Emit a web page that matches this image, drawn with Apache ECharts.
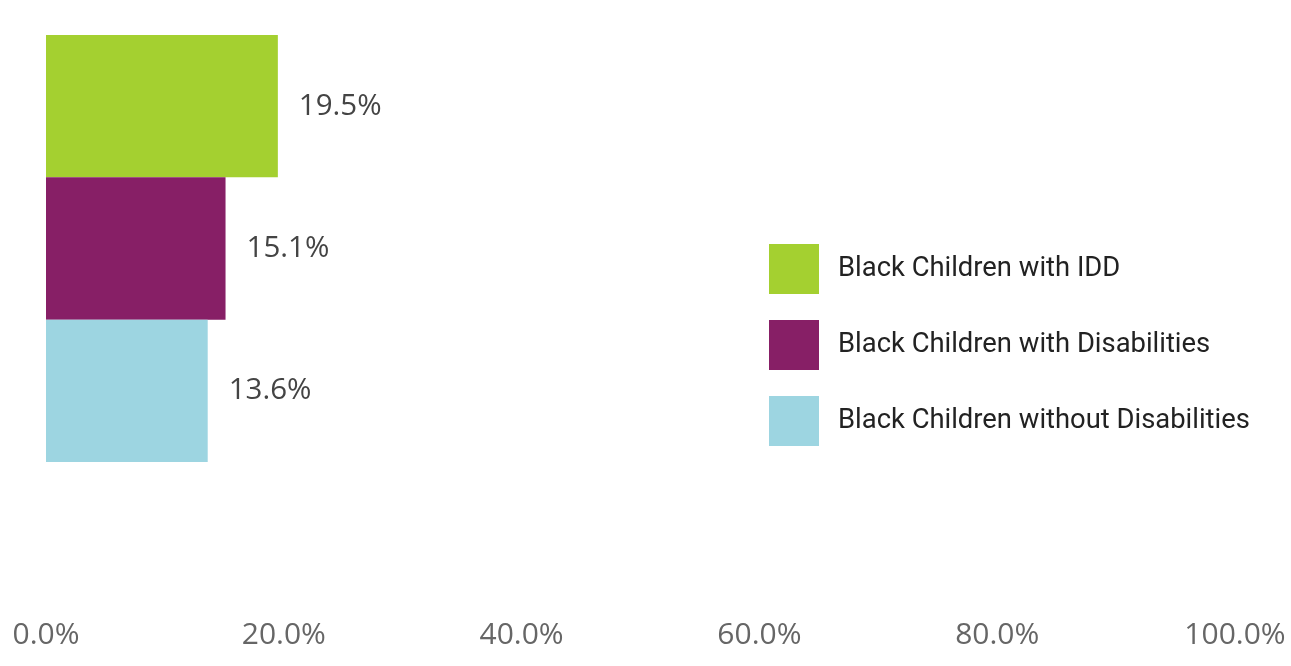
<!DOCTYPE html>
<html>
<head>
<meta charset="utf-8">
<script src="https://cdn.jsdelivr.net/npm/echarts@6/dist/echarts.min.js"></script>
<style>html,body{margin:0;padding:0;background:#fff;}#c{width:1291px;height:666px;}</style>
</head>
<body>
<div id="c"></div>
<script>
const categories = ['Black Children'];
const seriesNames = ['Black Children with IDD', 'Black Children with Disabilities', 'Black Children without Disabilities'];
const idd = [19.5];
const disabilities = [15.1];
const withoutDisabilities = [13.6];
const xTicks = [0, 20, 40, 60, 80, 100];

const colors = ['#a4d030', '#871f66', '#9dd5e1'];
const chart = echarts.init(document.getElementById('c'), null, {renderer: 'canvas'});
const labelStyle = {
  show: true, position: 'right', distance: 21,
  fontFamily: 'Open Sans', fontSize: 29.5, color: '#444',
  formatter: p => p.value.toFixed(1) + '%'
};
const values = [idd, disabilities, withoutDisabilities];
chart.setOption({
  animation: false,
  backgroundColor: '#fff',
  grid: {left: 46, right: 56, top: 35, height: 427},
  legend: {
    orient: 'vertical', left: 769, top: 244,
    itemWidth: 50, itemHeight: 50, itemGap: 26, padding: 0,
    icon: 'rect',
    textStyle: {fontFamily: 'Roboto', fontSize: 27.4, color: '#222', padding: [0, 0, 0, 14]},
    data: seriesNames
  },
  xAxis: {
    type: 'value', min: xTicks[0], max: xTicks[xTicks.length - 1], interval: 20,
    axisLine: {show: false}, axisTick: {show: false}, splitLine: {show: false},
    axisLabel: {
      margin: 158, fontFamily: 'Open Sans', fontSize: 30, color: '#666',
      formatter: v => v.toFixed(1) + '%'
    }
  },
  yAxis: {
    type: 'category', data: categories, inverse: true,
    axisLine: {show: false}, axisTick: {show: false}, axisLabel: {show: false}
  },
  series: seriesNames.map((n, i) => ({
    name: n, type: 'bar', data: values[i],
    barGap: '0%', barCategoryGap: '0%',
    itemStyle: {color: colors[i]},
    label: labelStyle
  }))
});
</script>
</body>
</html>
